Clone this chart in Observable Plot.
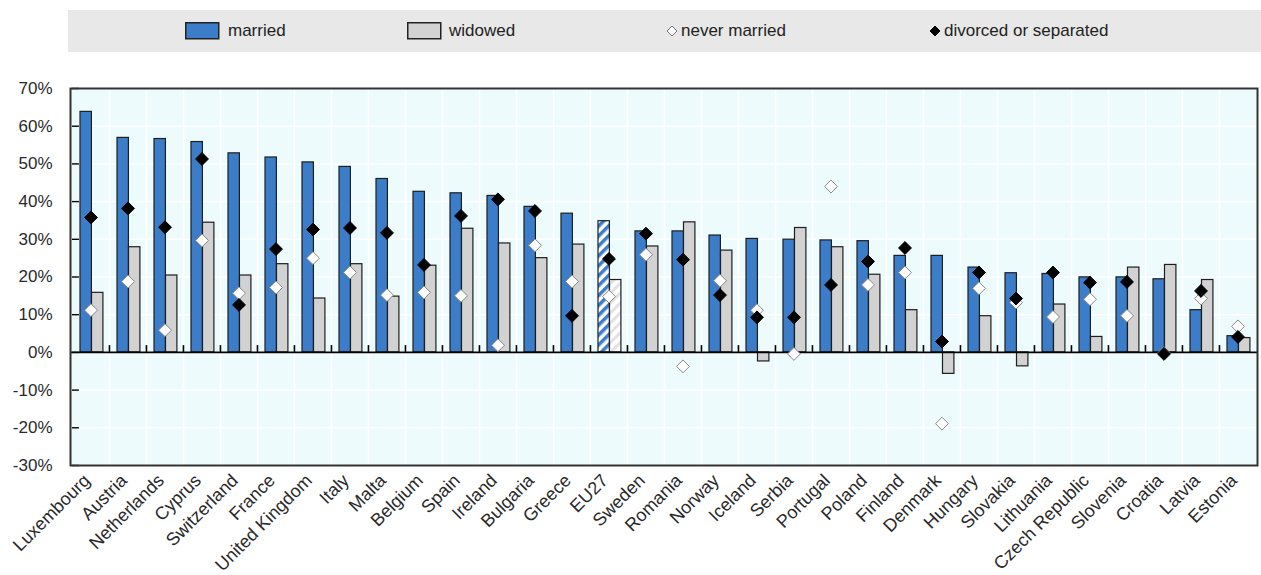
<!DOCTYPE html>
<html><head><meta charset="utf-8">
<script src="https://cdn.jsdelivr.net/npm/d3@7"></script>
<script src="https://cdn.jsdelivr.net/npm/@observablehq/plot@0.6"></script>
<style>
body{margin:0;background:#fff;font-family:"Liberation Sans",Arial,sans-serif;width:1261px;height:575px;overflow:hidden;position:relative;}
#legend{position:absolute;left:68px;top:10px;width:1193px;height:42px;background:#e8e8e8;}
.li{position:absolute;top:0;height:42px;display:flex;align-items:center;font-size:17px;color:#222;}
#chart{position:absolute;left:0;top:60px;}
</style></head><body>
<div id="legend">
  <div class="li" style="left:117px"><svg width="35" height="18" style="margin-right:8px"><rect x="0.75" y="0.75" width="33" height="16" fill="#3b7dc8" stroke="#222" stroke-width="1.5"/></svg>married</div>
  <div class="li" style="left:339px"><svg width="35" height="18" style="margin-right:7px"><rect x="0.75" y="0.75" width="33" height="16" fill="#d2d2d2" stroke="#222" stroke-width="1.5"/></svg>widowed</div>
  <div class="li" style="left:598px"><svg width="12" height="12" style="margin-right:3px"><path d="M6,1L11,6L6,11L1,6Z" fill="#fff" stroke="#777"/></svg>never married</div>
  <div class="li" style="left:861px"><svg width="12" height="12" style="margin-right:3px"><path d="M6,1L11,6L6,11L1,6Z" fill="#000" stroke="#000"/></svg>divorced or separated</div>
</div>
<div id="chart"></div>
<script>
const countries = ["Luxembourg","Austria","Netherlands","Cyprus","Switzerland","France","United Kingdom","Italy","Malta","Belgium","Spain","Ireland","Bulgaria","Greece","EU27","Sweden","Romania","Norway","Iceland","Serbia","Portugal","Poland","Finland","Denmark","Hungary","Slovakia","Lithuania","Czech Republic","Slovenia","Croatia","Latvia","Estonia"];
const married = [63.8,56.9,56.6,55.8,52.8,51.7,50.4,49.2,46.0,42.6,42.2,41.5,38.6,36.8,34.8,32.1,32.1,31.0,30.1,29.9,29.7,29.5,25.6,25.6,22.5,21.0,20.8,19.9,19.9,19.4,11.2,4.3];
const widowed = [15.8,27.9,20.4,34.4,20.4,23.4,14.3,23.4,14.8,23.0,32.8,28.9,25.0,28.6,19.2,28.1,34.5,27.0,-2.4,33.0,27.9,20.6,11.2,-5.7,9.6,-3.7,12.7,4.1,22.5,23.2,19.2,3.8];
const neverMarried = [11.2,18.8,5.9,29.7,15.7,17.2,25.0,21.2,15.2,15.9,15.0,1.9,28.4,18.8,14.8,25.9,-3.7,19.0,11.2,-0.4,44.0,17.9,21.2,-18.9,17.0,13.2,9.4,14.1,9.7,-0.2,14.3,6.9];
const divorced = [35.8,38.2,33.2,51.3,12.6,27.4,32.6,33.0,31.7,23.2,36.2,40.6,37.5,9.7,24.8,31.5,24.6,15.2,9.3,9.3,17.9,24.1,27.7,2.9,21.2,14.3,21.2,18.5,18.7,-0.4,16.3,4.1];
const yTicks = [-30,-20,-10,0,10,20,30,40,50,60,70];

const rows = countries.map((c, i) => ({country: c, married: married[i], widowed: widowed[i], never: neverMarried[i], divorced: divorced[i]}));
const W = 1261, H = 515, mL = 70, mR = 4, mT = 28, mB = 110;
const bw = (W - mL - mR) / countries.length;
const isEU = d => d.country === "EU27";
const notEU = d => d.country !== "EU27";
const mIn = [8, bw - 19.5], wIn = [19.5, bw - 31];

const chart = Plot.plot({
  width: W, height: H,
  marginLeft: mL, marginRight: mR, marginTop: mT, marginBottom: mB,
  style: {fontFamily: "'Liberation Sans', Arial, sans-serif", fontSize: "17px", color: "#2a2a2a", background: "transparent"},
  x: {type: "band", domain: countries, padding: 0, label: null},
  y: {domain: [-30, 70], ticks: yTicks, tickFormat: d => d + "%", label: null, tickSize: 0, tickPadding: 18},
  marks: [
    Plot.frame({fill: "#eefbfd", stroke: null}),
    Plot.ruleY(yTicks, {stroke: "#ffffff", strokeWidth: 1.5}),
    Plot.ruleX(countries.slice(1), {x: d => d, y1: -30, y2: 70, dx: -bw / 2, stroke: "#ffffff", strokeWidth: 1.5}),
    Plot.barY(rows.filter(notEU), {x: "country", y: "married", fill: "#3b7dc8", stroke: "#1e1e1e", strokeWidth: 1.2, insetLeft: mIn[0], insetRight: mIn[1]}),
    Plot.barY(rows.filter(isEU), {x: "country", y: "married", fill: "url(#hatchBlue)", stroke: "#1e1e1e", strokeWidth: 1.2, insetLeft: mIn[0], insetRight: mIn[1]}),
    Plot.barY(rows.filter(notEU), {x: "country", y: "widowed", fill: "#d2d2d2", stroke: "#1e1e1e", strokeWidth: 1.2, insetLeft: wIn[0], insetRight: wIn[1]}),
    Plot.barY(rows.filter(isEU), {x: "country", y: "widowed", fill: "url(#hatchGray)", stroke: "#1e1e1e", strokeWidth: 1.2, insetLeft: wIn[0], insetRight: wIn[1]}),
    Plot.ruleY([0], {stroke: "#000", strokeWidth: 1.6}),
    Plot.ruleX(countries.slice(1), {x: d => d, y1: 0, y2: 1.8, dx: -bw / 2, stroke: "#000", strokeWidth: 1.6}),
    Plot.tickY(yTicks, {x: () => countries[0], y: d => d, insetRight: bw - 7, stroke: "#000", strokeWidth: 1.4}),
    Plot.dot(rows, {x: "country", y: "never", symbol: "diamond2", r: 5.8, fill: "#fff", stroke: "#888", strokeWidth: 1}),
    Plot.dot(rows, {x: "country", y: "divorced", symbol: "diamond2", r: 5.8, fill: "#000", stroke: "#000", strokeWidth: 1}),
    Plot.axisX({tickSize: 0, tickRotate: -45, tickPadding: 12, dx: -4, fontSize: 18}),
    Plot.frame({stroke: "#333", strokeWidth: 2})
  ]
});
chart.insertAdjacentHTML("afterbegin", `<defs>
  <pattern id="hatchBlue" width="7" height="7" patternUnits="userSpaceOnUse" patternTransform="rotate(45)">
    <rect width="7" height="7" fill="#fff"/><rect width="3.5" height="7" fill="#3b7dc8"/></pattern>
  <pattern id="hatchGray" width="7" height="7" patternUnits="userSpaceOnUse" patternTransform="rotate(45)">
    <rect width="7" height="7" fill="#fff"/><rect width="3" height="7" fill="#e2e2e2"/></pattern>
</defs>`);
document.getElementById("chart").appendChild(chart);
</script>
</body></html>
